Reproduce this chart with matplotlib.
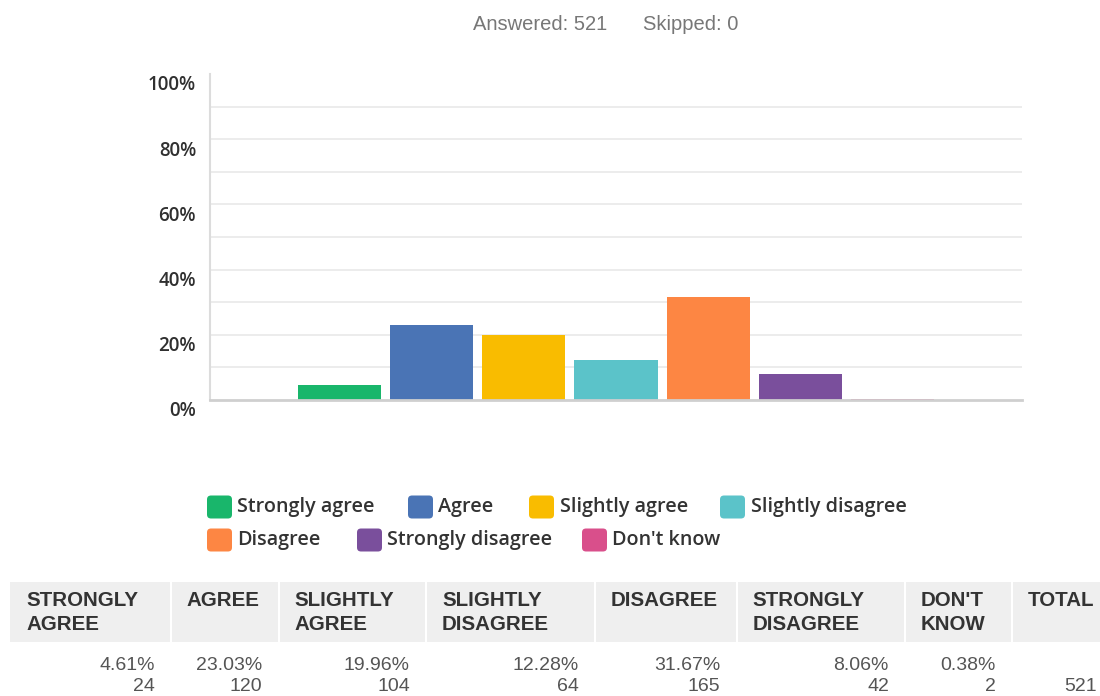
import matplotlib
matplotlib.use("Agg")
import matplotlib.pyplot as plt
from matplotlib.patches import FancyBboxPatch, Rectangle
from matplotlib.transforms import ScaledTranslation

# Survey responses
categories = ["Strongly agree", "Agree", "Slightly agree", "Slightly disagree",
              "Disagree", "Strongly disagree", "Don't know"]
percentages = [4.61, 23.03, 19.96, 12.28, 31.67, 8.06, 0.38]
counts = [24, 120, 104, 64, 165, 42, 2]
total = 521
answered = 521
skipped = 0
header_labels = ["STRONGLY\nAGREE", "AGREE", "SLIGHTLY\nAGREE", "SLIGHTLY\nDISAGREE",
                 "DISAGREE", "STRONGLY\nDISAGREE", "DON'T\nKNOW", "TOTAL"]
y_ticks = [0, 20, 40, 60, 80, 100]
y_tick_labels = ["0%", "20%", "40%", "60%", "80%", "100%"]

colors = ["#19b66b", "#4a74b5", "#f9bc00", "#5bc3c9", "#fd8643", "#7a4f9c", "#d94f8b"]

W, H = 1100, 696
fig = plt.figure(figsize=(W / 100, H / 100), dpi=100)
inch = fig.dpi_scale_trans


def px(x, y):
    """pixel position (from top-left) -> inches for dpi_scale_trans"""
    return x / 100, (H - y) / 100


# ---- header line ----
fig.text(*px(473, 24), f"Answered: {answered}", transform=inch, ha="left", va="center",
         fontsize=14.5, color="#777777", family="Liberation Sans")
fig.text(*px(643, 24), f"Skipped: {skipped}", transform=inch, ha="left", va="center",
         fontsize=14.5, color="#777777", family="Liberation Sans")

# ---- bar chart ----
ax = fig.add_axes([210 / W, (H - 400) / H, (1022 - 210) / W, (400 - 74) / H])
x = list(range(len(categories)))
ax.bar(x, percentages, width=0.9, color=colors, zorder=3)
ax.set_xlim(-1.4, len(categories) - 1 + 1.4)
ax.set_ylim(0, 100)
ax.set_xticks([])

ax.set_yticks(list(range(0, 101, 10)))
ax.set_yticklabels([y_tick_labels[y_ticks.index(v)] if v in y_ticks else ""
                    for v in range(0, 101, 10)])
ax.grid(axis="y", color="#e9e9e9", linewidth=1.2, zorder=0)
glines = ax.yaxis.get_gridlines()
glines[0].set_visible(False)
glines[-1].set_visible(False)
ax.tick_params(axis="y", length=0, pad=10, labelsize=13.5, labelcolor="#303030")
for lbl in ax.get_yticklabels():
    lbl.set_family("Open Sans")
    lbl.set_weight("semibold")
    lbl.set_transform(lbl.get_transform() + ScaledTranslation(0, -9 / 100, inch))

for side in ("top", "right"):
    ax.spines[side].set_visible(False)
ax.spines["left"].set_color("#dcdcdc")
ax.spines["left"].set_linewidth(1.5)
ax.spines["bottom"].set_color("#cfcfcf")
ax.spines["bottom"].set_linewidth(2)
ax.spines["bottom"].set_zorder(4)

# ---- legend (flowing layout) ----
legend_items = [
    (0, 207, 237, 507), (1, 408, 438, 507), (2, 529, 560, 507), (3, 720, 751, 507),
    (4, 207, 237, 540), (5, 357, 387, 540), (6, 582, 612, 540),
]
for idx, sx, tx, cy in legend_items:
    sw, sh = 25, 23
    x0, y0 = px(sx, cy + sh / 2)
    patch = FancyBboxPatch((x0, y0), sw / 100, sh / 100,
                           boxstyle="round,pad=0,rounding_size=0.04",
                           transform=inch, facecolor=colors[idx], edgecolor="none")
    fig.patches.append(patch)
    fig.text(*px(tx, cy), categories[idx], transform=inch, ha="left", va="center",
             fontsize=14.2, color="#333333", family="Open Sans", weight="semibold")

# ---- summary table ----
col_edges = [10, 170.7, 278.5, 426, 595, 736.5, 905, 1011.7, 1120]
band_top, band_bot = 582, 642
for i in range(len(col_edges) - 1):
    left = col_edges[i] + (1 if i > 0 else 0)
    right = col_edges[i + 1] - 1
    x0, y0 = px(left, band_bot)
    fig.patches.append(Rectangle((x0, y0), (right - left) / 100, (band_bot - band_top) / 100,
                                 transform=inch, facecolor="#efefef", edgecolor="none"))

values_pct = [f"{p:.2f}%" for p in percentages] + [""]
values_cnt = [str(c) for c in counts] + [str(total)]
for i, head in enumerate(header_labels):
    left = col_edges[i]
    right = min(col_edges[i + 1], 1113)
    for j, line in enumerate(head.split("\n")):
        fig.text(*px(left + 16, 600 + 25 * j), line, transform=inch, ha="left", va="center",
                 fontsize=14.8, weight="bold", color="#333333", family="Liberation Sans")
    if values_pct[i]:
        fig.text(*px(right - 16, 665), values_pct[i], transform=inch, ha="right",
                 va="center", fontsize=14, color="#555555", family="Liberation Sans")
    fig.text(*px(right - 16, 686.5), values_cnt[i], transform=inch, ha="right",
             va="center", fontsize=14, color="#555555", family="Liberation Sans")

fig.savefig("out.png", dpi=100)
